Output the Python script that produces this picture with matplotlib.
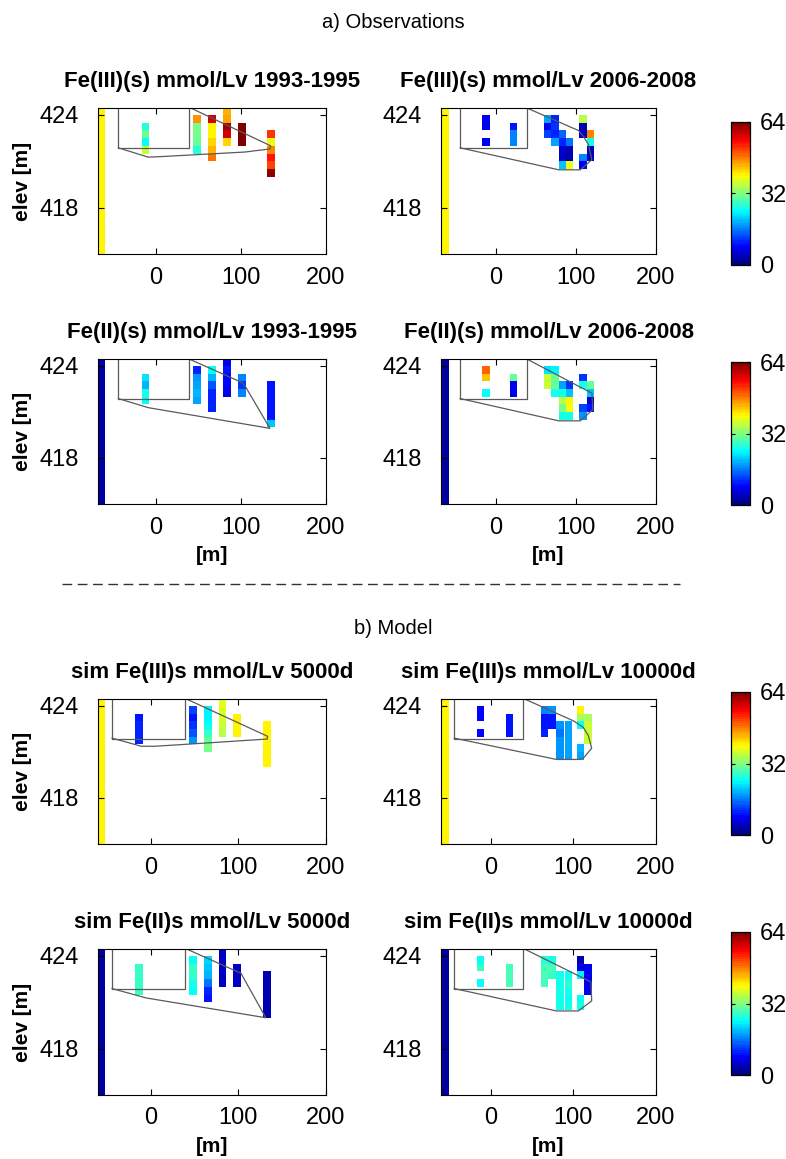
import numpy as np
import matplotlib
matplotlib.use('Agg')
import matplotlib.pyplot as plt
from matplotlib.lines import Line2D
from matplotlib.colors import LinearSegmentedColormap

plt.rcParams['font.family'] = ['Liberation Sans', 'DejaVu Sans']

nan = np.nan

# sampling grid: columns are 9 m wide, rows are 0.5 m thick
DX = 9.0
DZ = 0.5
Z0 = 424.0  # top of row 0

# each column: (x centre [m], index of first row, values from top down) in mmol/Lv
fe3_obs_9395 = [
    (-12, 1, [26, 30, 24, 36]),
    (48, 0, [46, 31, 31, 30, 26]),
    (66, 0, [58, 40, 40, 42, 44, 48]),
    (84, -1, [44, 45, 61, 58, 42]),
    (101, 1, [63, 63, 63]),
    (135, 2, [52, 38, 47, 54, 51, 62]),
]
fe3_obs_0608 = [
    (-12, 0, [7, 7, nan, 7]),
    (22, 1, [9, 16, 16]),
    (65, 0, [18, 7, 12]),
    (74, 0, [10, 11, 10, 18]),
    (83, 2, [14, 10, 5, 4, 20]),
    (92, 3, [15, 3, 3, 38]),
    (109, 0, [35, 3, 4, nan, nan, 16, 7]),
    (118, 2, [47, 25, 4, 4]),
]
fe2_obs_9395 = [
    (-12, 1, [22, 19, 25, 24]),
    (48, 0, [10, 17, 18, 19, 18]),
    (66, 0, [24, 19, 13, 10, 10, 10]),
    (84, -1, [7, 9, 8, 8, 6]),
    (101, 1, [16, 11, 16]),
    (135, 2, [9, 9, 9, 9, 9, 20]),
]
fe2_obs_0608 = [
    (-12, 0, [49, 43, nan, 24]),
    (22, 1, [30, 7, 7]),
    (65, 0, [22, 36, 36]),
    (74, 0, [23, 30, 30, 25]),
    (83, 2, [18, 25, 35, 31, 25]),
    (92, 2, [11, 20, 40, 39, 25]),
    (109, 1, [11, 25, nan, nan, 12, 17]),
    (118, 2, [30, 20, 5, 9]),
]
fe3_sim_5000 = [
    (-13, 1, [9, 10, 10, 10]),
    (48, 0, [12, 9, 11, 13, 17]),
    (65, 0, [23, 23, 24, 27, 30, 31]),
    (82, -1, [38, 37, 37, 36, 35]),
    (99, 1, [40, 40, 40]),
    (133, 2, [40, 40, 40, 40, 40, 40]),
]
fe3_sim_10000 = [
    (-12, 0, [8, 8, nan, 8]),
    (23, 1, [9, 9, 9]),
    (65, 0, [16, 9, 9, 10]),
    (74, 0, [17, 9, 9]),
    (84, 2, [17, 15, 17, 17, 17]),
    (94, 2, [18, 18, 18, 18, 18]),
    (109, 0, [40, 34, 24, nan, nan, 19, 18]),
    (118, 1, [34, 36, 36, 36]),
]
fe2_sim_5000 = [
    (-13, 1, [27, 27, 27, 27]),
    (48, 0, [24, 27, 27, 25, 24]),
    (65, 0, [21, 20, 19, 15, 10, 9]),
    (82, -1, [4, 4, 4, 4, 4]),
    (99, 1, [4, 4, 4]),
    (133, 2, [3, 3, 3, 3, 3, 3]),
]
fe2_sim_10000 = [
    (-12, 0, [24, 27, nan, 24]),
    (23, 1, [28, 28, 28]),
    (65, 0, [26, 28, 28, 28]),
    (74, 0, [25, 28, 27]),
    (84, 2, [25, 25, 25, 25, 25]),
    (94, 2, [24, 26, 25, 24, 25]),
    (109, 0, [3, 6, 23, nan, nan, 24, 25]),
    (118, 1, [7, 7, 7, 7]),
]

# boundary column at the left edge of the section
strip_fe3 = 40
strip_fe2 = 2
strip_x_obs = [-64.5, -63]
strip_x_sim = [-56, -55]

# outlines (x [m], elev [m])
box_x = [-44, -44, 39, 39]
box_z = [424.7, 421.87, 421.87, 424.7]

outline_fe3_obs_9395 = [(39, 424.5), (135, 422.0), (134, 421.8), (104.7, 421.6),
                        (38, 421.4), (4.7, 421.3), (-9, 421.27), (-44, 421.87)]
outline_fe3_obs_0608 = [(39, 424.45), (103.5, 422.99), (109.7, 422.6), (116, 422.06),
                        (120, 421.1), (105.6, 420.45), (78.7, 420.45), (-44, 421.87)]
outline_fe2_obs_9395 = [(39, 424.45), (100.8, 422.93), (104.7, 422.71), (134.1, 419.93),
                        (-9, 421.28), (-44, 421.87)]
outline_fe2_obs_0608 = [(39, 424.45), (120.1, 422.22), (121.3, 421.15), (105.6, 420.42),
                        (78.7, 420.42), (-44, 421.87)]
outline_fe3_sim_5000 = [(39, 424.5), (133.3, 422.02), (133, 421.84), (32.9, 421.47),
                        (4.5, 421.37), (-10.6, 421.37), (-44, 421.9)]
outline_fe3_sim_10000 = [(39, 424.5), (100, 423.03), (112.1, 422.6), (118.2, 422.06),
                         (122.2, 421.24), (112.1, 420.59), (106, 420.51), (79.7, 420.51),
                         (-44, 421.9)]
outline_fe2_sim_5000 = [(39, 424.5), (103, 422.88), (131.4, 420.0), (-4.9, 421.28),
                        (-44, 421.89)]
outline_fe2_sim_10000 = [(39, 424.5), (121.4, 422.32), (122.2, 421.09), (106, 420.44),
                         (79.7, 420.44), (-44, 421.89)]

titles = [
    ['Fe(III)(s) mmol/Lv 1993-1995', 'Fe(III)(s) mmol/Lv 2006-2008'],
    ['Fe(II)(s) mmol/Lv 1993-1995', 'Fe(II)(s) mmol/Lv 2006-2008'],
    ['sim Fe(III)s mmol/Lv 5000d', 'sim Fe(III)s mmol/Lv 10000d'],
    ['sim Fe(II)s mmol/Lv 5000d', 'sim Fe(II)s mmol/Lv 10000d'],
]
columns = [
    [fe3_obs_9395, fe3_obs_0608],
    [fe2_obs_9395, fe2_obs_0608],
    [fe3_sim_5000, fe3_sim_10000],
    [fe2_sim_5000, fe2_sim_10000],
]
outlines = [
    [outline_fe3_obs_9395, outline_fe3_obs_0608],
    [outline_fe2_obs_9395, outline_fe2_obs_0608],
    [outline_fe3_sim_5000, outline_fe3_sim_10000],
    [outline_fe2_sim_5000, outline_fe2_sim_10000],
]
strips = [strip_fe3, strip_fe2, strip_fe3, strip_fe2]
strip_x = [strip_x_obs, strip_x_obs, strip_x_sim, strip_x_sim]
xmins = [-68, -68, -60, -60]

# MATLAB style jet with 64 levels
cmap = LinearSegmentedColormap.from_list(
    'jet64',
    [(0, (0, 0, 0.5)), (1 / 8, (0, 0, 1)), (3 / 8, (0, 1, 1)),
     (5 / 8, (1, 1, 0)), (7 / 8, (1, 0, 0)), (1, (0.5, 0, 0))], N=64)
VMIN, VMAX = 0, 64

W, H = 786, 1159
fig = plt.figure(figsize=(W / 100, H / 100), dpi=100)


def px_axes(left, top, width, height):
    return fig.add_axes([left / W, 1 - (top + height) / H, width / W, height / H])


row_tops = [108, 359, 699, 949]
row_h = [146, 145, 145, 146]
col_left = [98, 441]
col_w = [228, 215]
cbar_tops = [122, 362, 692, 932]
LINE = '#5a5a5a'

for i in range(4):
    for j in range(2):
        ax = px_axes(col_left[j], row_tops[i], col_w[j], row_h[i])
        # left boundary column
        sx = strip_x[i][j]
        ax.pcolormesh([sx - DX / 2, sx + DX / 2], [415, 424.7], [[strips[i]]],
                      cmap=cmap, vmin=VMIN, vmax=VMAX)
        for x, r0, vals in columns[i][j]:
            vals = np.ma.masked_invalid(np.array(vals, dtype=float))
            z_edges = Z0 - DZ * (r0 + np.arange(len(vals) + 1))
            mesh = ax.pcolormesh([x - DX / 2, x + DX / 2], z_edges[::-1],
                                 vals[::-1].reshape(-1, 1),
                                 cmap=cmap, vmin=VMIN, vmax=VMAX)
        ax.plot(box_x, box_z, color=LINE, lw=0.9)
        ox, oz = zip(*outlines[i][j])
        ax.plot(ox, oz, color=LINE, lw=0.9)
        ax.set_xlim(xmins[i], 200)
        ax.set_ylim(415, 424.45)
        ax.set_xticks([0, 100, 200])
        ax.set_yticks([418, 424])
        ax.tick_params(direction='in', top=True, right=True, length=4,
                       labelsize=17, pad=9)
        ax.tick_params(axis='y', pad=14)
        ax.set_title(titles[i][j], fontsize=16, fontweight='bold', pad=15)
        if j == 0:
            ax.set_ylabel('elev [m]', fontsize=15, fontweight='bold')
            ax.yaxis.set_label_coords(-0.29, 0.5)
        if i in (1, 3):
            ax.set_xlabel('[m]', fontsize=15, fontweight='bold')
            ax.xaxis.set_label_coords(0.5, -0.29)

    cax = px_axes(731, cbar_tops[i], 19, 143)
    cb = fig.colorbar(mesh, cax=cax, ticks=[0, 32, 64])
    cb.outline.set_linewidth(0.9)
    cax.tick_params(direction='in', length=3, left=True, right=True,
                    labelsize=17, pad=7)

fig.text(393 / W, 1 - 22 / H, 'a) Observations', fontsize=14.5,
         ha='center', va='center')
fig.text(393 / W, 1 - 628 / H, 'b) Model', fontsize=14.5,
         ha='center', va='center')
fig.add_artist(Line2D([62 / W, 680 / W], [1 - 584 / H] * 2, transform=fig.transFigure,
                      color='#333333', lw=1, ls=(0, (7, 4))))

fig.savefig('out.png', dpi=100)
